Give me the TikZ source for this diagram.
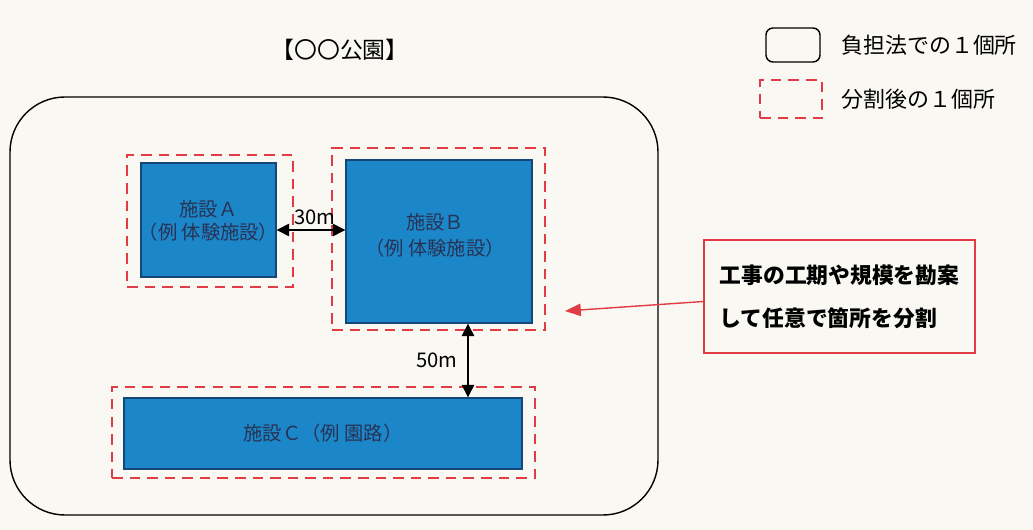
\documentclass[tikz,border=0pt]{standalone}
\usepackage{fontspec}
\setmainfont{Noto Sans CJK JP}
\usetikzlibrary{arrows.meta}
\definecolor{paper}{RGB}{250,248,242}
\definecolor{facility}{RGB}{28,135,200}
\definecolor{facilityedge}{RGB}{20,70,120}
\definecolor{facilitytext}{RGB}{40,50,85}
\definecolor{splitred}{RGB}{225,60,70}
\tikzset{
  facility/.style={draw=facilityedge, fill=facility, thick},
  facilitylabel/.style={text=facilitytext, align=center, font=\fontsize{11pt}{13pt}\selectfont},
  split/.style={draw=splitred, dash pattern=on 6pt off 4pt, line width=1.7pt},
  dist/.style={{Triangle[length=7pt,width=7pt]}-{Triangle[length=7pt,width=7pt]}, thick}
}
\begin{document}
\begin{tikzpicture}
\fill[paper] (0,0) rectangle (20.66,-10.6);
\useasboundingbox (0,0) rectangle (20.66,-10.6);

\node (title) at (6.8,-1.0) {\fontsize{13pt}{15pt}\selectfont 【〇〇公園】};

\draw[thick, rounded corners=1.1cm] (0.2,-1.94) rectangle (13.16,-10.3);

\node[split, minimum width=3.32cm, minimum height=2.64cm] (splitA) at (4.20,-4.42) {};
\node[split, minimum width=4.26cm, minimum height=3.64cm] (splitB) at (8.77,-4.78) {};
\node[split, minimum width=8.46cm, minimum height=1.82cm] (splitC) at (6.47,-8.65) {};

\node[facility, minimum width=2.70cm, minimum height=2.28cm] (A) at (4.17,-4.40) {};
\node[facility, minimum width=3.72cm, minimum height=3.26cm] (B) at (8.78,-4.83) {};
\node[facility, minimum width=7.96cm, minimum height=1.42cm] (C) at (6.46,-8.67) {};

\node[facilitylabel] (labA) at (4.17,-4.42) {施設Ａ\\（例 体験施設）};
\node[facilitylabel, font=\fontsize{11pt}{15pt}\selectfont] (labB) at (8.70,-4.70) {施設Ｂ\\（例 体験施設）};
\node[facilitylabel] (labC) at (6.46,-8.67) {施設Ｃ（例 園路）};

% distances
\coordinate (a30) at ([yshift=-0.2cm]A.east);
\draw[dist] (a30) -- (a30 -| B.west);
\node[font=\fontsize{11.5pt}{13pt}\selectfont] (d30) at (6.30,-4.34) {30m};

\coordinate (b50) at ([xshift=0.58cm]B.south);
\draw[dist] (b50) -- (b50 |- C.north);
\node[font=\fontsize{11.5pt}{13pt}\selectfont] (d50) at (8.74,-7.20) {50m};

% note
\node[draw=splitred, thick, minimum width=5.42cm, minimum height=2.26cm, align=left, font=\bfseries\fontsize{12.4pt}{24.4pt}\selectfont] (note) at (16.79,-5.93) {工事の工期や規模を勘案\\して任意で箇所を分割};
\coordinate (tip) at (11.3,-6.22);
\draw[splitred, thick, -{Triangle[length=9pt,width=7pt]}] ([yshift=-0.1cm]note.west) -- (tip);

% legend
\node[draw, thick, rounded corners=4pt, minimum width=1.08cm, minimum height=0.68cm] (legsolid) at (15.86,-0.90) {};
\node[split, line width=1.4pt, minimum width=1.24cm, minimum height=0.76cm] (legsplit) at (15.82,-1.98) {};
\node[anchor=west, font=\fontsize{12.5pt}{15pt}\selectfont] (legsolidtext) at (16.70,-0.90) {負担法での１個所};
\node[anchor=west, font=\fontsize{12.5pt}{15pt}\selectfont] (legsplittext) at (16.70,-1.98) {分割後の１個所};

\end{tikzpicture}
\end{document}
